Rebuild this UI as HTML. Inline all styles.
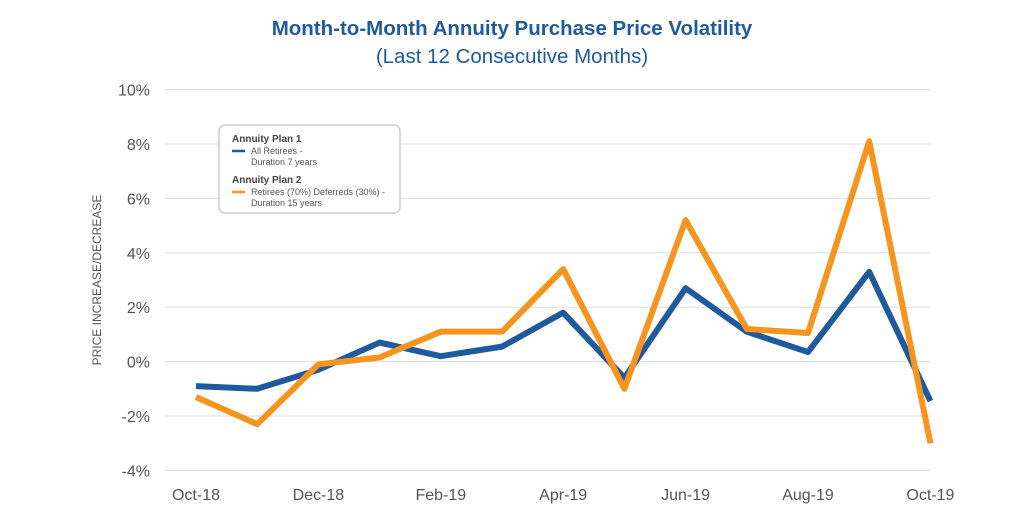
<!DOCTYPE html>
<html><head><meta charset="utf-8"><style>
body{margin:0;background:#fff;width:1024px;height:512px;overflow:hidden;font-family:"Liberation Sans",sans-serif}
</style></head><body>
<svg width="1024" height="512">
<text x="512" y="35" text-anchor="middle" font-size="20.5" font-weight="bold" fill="#1f5a9e">Month-to-Month Annuity Purchase Price Volatility</text>
<text x="512" y="63" text-anchor="middle" font-size="20.5" fill="#1f5a9e">(Last 12 Consecutive Months)</text>
<text transform="translate(101,280) rotate(-90)" text-anchor="middle" font-size="12" fill="#555">PRICE INCREASE/DECREASE</text>
<g id="grid"></g><g id="xl"></g><g id="lines"></g>
<g>
<rect x="219" y="125" width="181" height="88" rx="6" fill="#fff" stroke="#ccc" stroke-width="1.5"/>
<text x="232" y="142" font-size="10" font-weight="bold" fill="#444">Annuity Plan 1</text>
<line x1="232" y1="151" x2="245" y2="151" stroke="#1f5a9e" stroke-width="2.5"/>
<text x="251" y="154" font-size="9" fill="#555">All Retirees -</text>
<text x="251" y="165" font-size="9" fill="#555">Duration 7 years</text>
<text x="232" y="183" font-size="10" font-weight="bold" fill="#444">Annuity Plan 2</text>
<line x1="232" y1="192" x2="245" y2="192" stroke="#f7941d" stroke-width="2.5"/>
<text x="251" y="195" font-size="9" fill="#555">Retirees (70%) Deferreds (30%) -</text>
<text x="251" y="206" font-size="9" fill="#555">Duration 15 years</text>
</g>
</svg>
<script>
const months=["Oct-18","Nov-18","Dec-18","Jan-19","Feb-19","Mar-19","Apr-19","May-19","Jun-19","Jul-19","Aug-19","Sep-19","Oct-19"];
const plan1=[-0.9,-1.0,-0.3,0.7,0.2,0.55,1.8,-0.6,2.7,1.1,0.35,3.3,-1.45];
const plan2=[-1.3,-2.3,-0.1,0.15,1.1,1.1,3.4,-1.0,5.2,1.2,1.05,8.1,-3.0];
const yTicks=[10,8,6,4,2,0,-2,-4];
const NS="http://www.w3.org/2000/svg";
const x=i=>196+i*61.2, y=v=>361.6-v*27.2;
const grid=document.getElementById('grid');
yTicks.forEach(t=>{
 const l=document.createElementNS(NS,'line');
 l.setAttribute('x1',165);l.setAttribute('x2',930);l.setAttribute('y1',y(t));l.setAttribute('y2',y(t));
 l.setAttribute('stroke','#ddd');
 
 
 grid.appendChild(l);
 const tx=document.createElementNS(NS,'text');
 tx.setAttribute('x',150);tx.setAttribute('y',y(t)+6);tx.setAttribute('text-anchor','end');
 tx.setAttribute('font-size','16');tx.setAttribute('fill','#555');tx.textContent=t+'%';
 
 
 grid.appendChild(tx);
});
const xl=document.getElementById('xl');
months.forEach((m,i)=>{ if(i%2) return;
 const tx=document.createElementNS(NS,'text');
 tx.setAttribute('x',x(i));tx.setAttribute('y',500);tx.setAttribute('text-anchor','middle');
 tx.setAttribute('font-size','16');tx.setAttribute('fill','#555');tx.textContent=m;
 
 
 xl.appendChild(tx);
});
const lines=document.getElementById('lines');
[[plan1,'#1f5a9e','plan1-line'],[plan2,'#f7941d','plan2-line']].forEach(([d,c,n])=>{
 const p=document.createElementNS(NS,'polyline');
 p.setAttribute('points',d.map((v,i)=>x(i)+','+y(v)).join(' '));
 p.setAttribute('fill','none');p.setAttribute('stroke',c);p.setAttribute('stroke-width','6');
 p.setAttribute('stroke-linejoin','round');
 
 
 lines.appendChild(p);
});
</script>
</body></html>
